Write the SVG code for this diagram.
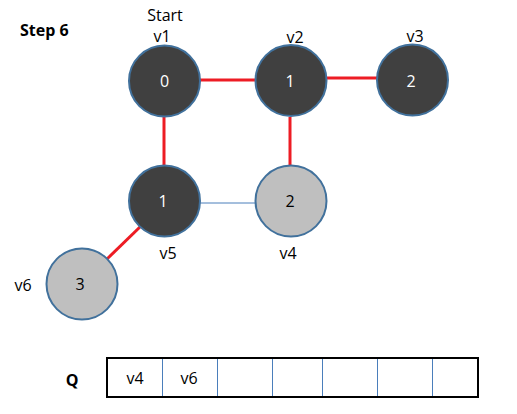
<svg xmlns="http://www.w3.org/2000/svg" width="517" height="414" viewBox="0 0 517 414">
<style>
text{font-family:"Open Sans","Noto Sans","Liberation Sans",sans-serif;font-size:16px;fill:#000}
.c{text-anchor:middle}
.b{font-weight:bold}
.dark{fill:#404040;stroke:#41719C;stroke-width:2}
.light{fill:#BFBFBF;stroke:#41719C;stroke-width:2}
.w{fill:#fff;text-anchor:middle}
.red{stroke:#ED1C24;stroke-width:3;fill:none}
.blue{stroke:#4A7EBB;stroke-width:1;fill:none}
</style>
<rect width="517" height="414" fill="#fff"/>
<text x="20" y="36" class="b" style="font-size:16px">Step 6</text>
<g id="connectors">
<line class="red" x1="200" y1="80" x2="255" y2="80"/>
<line class="red" x1="327" y1="78" x2="377" y2="78"/>
<line class="red" x1="164" y1="117" x2="164" y2="165"/>
<line class="red" x1="290" y1="117" x2="290" y2="165"/>
<line class="blue" x1="200" y1="203" x2="255" y2="203"/>
<line class="red" x1="141" y1="226" x2="107" y2="259"/>
</g>
<g id="v1">
<circle class="dark" cx="164.5" cy="81" r="35.5"/>
<text class="w" x="164.5" y="87">0</text>
<text class="c" x="165" y="21">Start</text>
<text class="c" x="162" y="42">v1</text>
</g>
<g id="v2">
<circle class="dark" cx="291" cy="80.5" r="35.5"/>
<text class="w" x="290" y="87">1</text>
<text class="c" x="295" y="43">v2</text>
</g>
<g id="v3">
<circle class="dark" cx="412.5" cy="80" r="35.5"/>
<text class="w" x="411" y="87">2</text>
<text class="c" x="415" y="42">v3</text>
</g>
<g id="v5">
<circle class="dark" cx="164.5" cy="201" r="35.5"/>
<text class="w" x="163" y="207">1</text>
<text class="c" x="168" y="259">v5</text>
</g>
<g id="v4">
<circle class="light" cx="291" cy="201" r="35.5"/>
<text class="c" x="290" y="207">2</text>
<text class="c" x="288" y="259">v4</text>
</g>
<g id="v6">
<circle class="light" cx="82" cy="284" r="35.5"/>
<text class="c" x="80" y="290">3</text>
<text class="c" x="23" y="291">v6</text>
</g>
<g id="queue">
<text class="c b" x="72" y="386" style="font-size:16px">Q</text>
<rect x="107" y="358" width="371" height="39" fill="#fff" stroke="#000" stroke-width="2"/>
<g class="blue">
<line x1="162.5" y1="359" x2="162.5" y2="396"/>
<line x1="217.5" y1="359" x2="217.5" y2="396"/>
<line x1="272.5" y1="359" x2="272.5" y2="396"/>
<line x1="322.5" y1="359" x2="322.5" y2="396"/>
<line x1="377.5" y1="359" x2="377.5" y2="396"/>
<line x1="432.5" y1="359" x2="432.5" y2="396"/>
</g>
<text class="c" x="135" y="384">v4</text>
<text class="c" x="189" y="384">v6</text>
</g>
</svg>
